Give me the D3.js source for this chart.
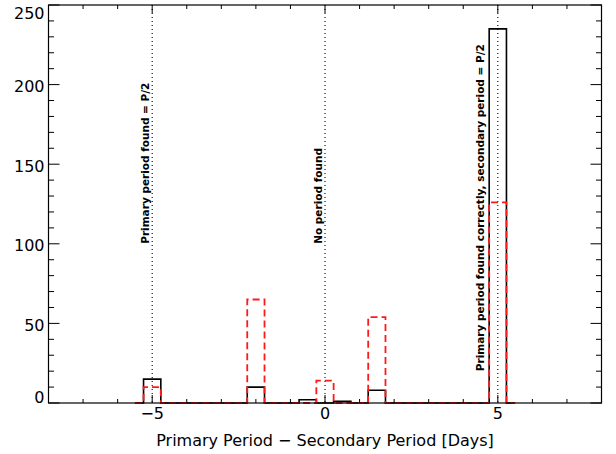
<!DOCTYPE html>
<html>
<head>
<meta charset="utf-8">
<script src="https://cdn.jsdelivr.net/npm/d3@7"></script>
<style>
  body { margin:0; background:#fff; }
  text { font-family: "DejaVu Sans", sans-serif; }
</style>
</head>
<body>
<div id="chart"></div>
<script>
// bin centres (days) and counts of the two histograms
const binCenters = [-5.5,-5,-4.5,-4,-3.5,-3,-2.5,-2,-1.5,-1,-0.5,0,0.5,1,1.5,2,2.5,3,3.5,4,4.5,5,5.5];
const blackCounts = [0,15,0,0,0,0,0,10,0,0,2,0,1,0,8,0,0,0,0,0,0,235,0];
const redCounts   = [0,10,0,0,0,0,0,65,0,0,0,14,0,0,54,0,0,0,0,0,0,126,0];
const markerLines = [-5, 0, 5];
const notes = [
  {x:-5.08, y:100, text:"Primary period found = P/2"},
  {x:-0.1,  y:100, text:"No period found"},
  {x:4.6,   y:20,  text:"Primary period found correctly, secondary period = P/2"}
];
const xMajor = [-5, 0, 5];
const yMajor = [0, 50, 100, 150, 200, 250];

const W = 616, H = 454;
const margin = {top:5, right:14.5, bottom:51, left:48.5},
      width = W - margin.left - margin.right,
      height = H - margin.top - margin.bottom;

const svg = d3.select("#chart").append("svg").attr("width", W).attr("height", H)
  .append("g").attr("transform", `translate(${margin.left},${margin.top})`);

const x = d3.scaleLinear().domain([-8, 8]).range([0, width]);
const y = d3.scaleLinear().domain([0, 250]).range([height, 0]);

// IDL psym=10 style step line
function stepPath(vals) {
  const pts = [];
  const half = 0.25;
  pts.push([binCenters[0], vals[0]]);
  for (let i = 0; i < binCenters.length - 1; i++) {
    const edge = binCenters[i] + half;
    pts.push([edge, vals[i]]);
    pts.push([edge, vals[i + 1]]);
  }
  pts.push([binCenters[binCenters.length - 1], vals[vals.length - 1]]);
  return d3.line().x(d => x(d[0])).y(d => y(d[1]))(pts);
}

// dotted markers
svg.selectAll("line.mark").data(markerLines).join("line").attr("class","mark")
  .attr("x1", d => x(d)).attr("x2", d => x(d)).attr("y1", 0).attr("y2", height)
  .attr("stroke", "#000").attr("stroke-width", 1.1).attr("stroke-dasharray", "1,3");

svg.append("path").attr("d", stepPath(blackCounts)).attr("fill","none")
  .attr("stroke","#000").attr("stroke-width",1.6);
svg.append("path").attr("d", stepPath(redCounts)).attr("fill","none")
  .attr("stroke","#ff1a1a").attr("stroke-width",1.8).attr("stroke-dasharray","7,4");

// frame and ticks
svg.append("rect").attr("width", width).attr("height", height)
  .attr("fill","none").attr("stroke","#000").attr("stroke-width",1.2);

const xTicks = d3.range(-8, 9, 1), yTicks = d3.range(0, 251, 10);
const tickG = svg.append("g");
xTicks.forEach(t => {
  const len = xMajor.includes(t) ? 8 : 4;
  tickG.append("line").attr("x1", x(t)).attr("x2", x(t)).attr("y1", height).attr("y2", height - len).attr("stroke","#000");
  tickG.append("line").attr("x1", x(t)).attr("x2", x(t)).attr("y1", 0).attr("y2", len).attr("stroke","#000");
});
yTicks.forEach(t => {
  const len = yMajor.includes(t) ? 11 : 5.5;
  tickG.append("line").attr("y1", y(t)).attr("y2", y(t)).attr("x1", 0).attr("x2", len).attr("stroke","#000");
  tickG.append("line").attr("y1", y(t)).attr("y2", y(t)).attr("x1", width).attr("x2", width - len).attr("stroke","#000");
});

// tick labels
svg.append("g").selectAll("text").data(xMajor).join("text")
  .attr("x", d => x(d)).attr("y", height + 15.5).attr("text-anchor","middle")
  .attr("font-size", 16).text(d => d < 0 ? "\u2212" + Math.abs(d) : d);
svg.append("g").selectAll("text").data(yMajor).join("text")
  .attr("x", -4).attr("y", d => Math.min(Math.max(y(d) + 7.5, 13.5), height))
  .attr("text-anchor","end").attr("font-size", 16).text(d => d);

svg.append("text").attr("x", width / 2).attr("y", height + 43).attr("text-anchor","middle")
  .attr("font-size", 16)
  .text("Primary Period \u2212 Secondary Period [Days]");

// rotated annotations
svg.selectAll("text.note").data(notes).join("text").attr("class","note")
  .attr("transform", d => `translate(${x(d.x)},${y(d.y)}) rotate(-90)`)
  .attr("font-size", 10.5).attr("font-weight","bold").text(d => d.text);
</script>
</body>
</html>
